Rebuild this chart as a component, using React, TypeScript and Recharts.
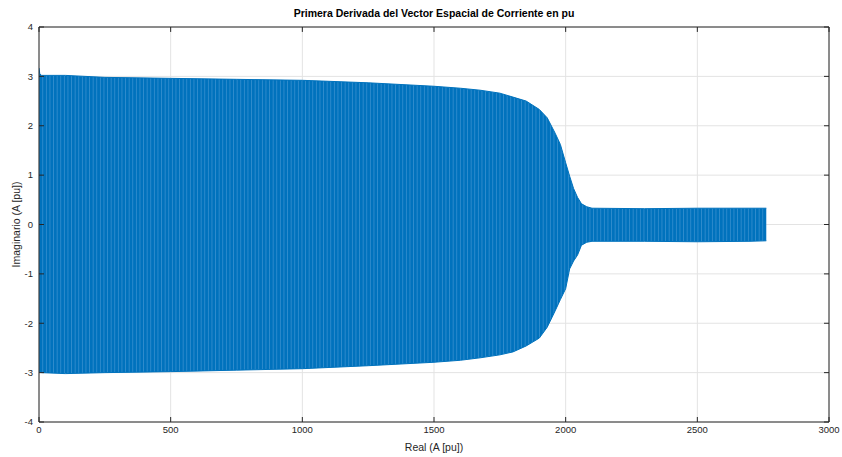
import React from 'react';
import {
  ComposedChart, Area, XAxis, YAxis, CartesianGrid, ReferenceLine,
} from 'recharts';

// envelope of the oscillating signal
const realPts = [0, 3, 10, 100, 250, 500, 750, 1000, 1250, 1500, 1600, 1675, 1750, 1800, 1850, 1900, 1930, 1960, 1980, 2000, 2015, 2030, 2045, 2060, 2080, 2100, 2300, 2500, 2700, 2762];
const upperVals = [3.17, 3.05, 3.02, 3.02, 2.98, 2.96, 2.94, 2.92, 2.87, 2.8, 2.76, 2.72, 2.66, 2.58, 2.5, 2.33, 2.16, 1.85, 1.62, 1.25, 0.98, 0.73, 0.55, 0.42, 0.36, 0.33, 0.32, 0.33, 0.33, 0.33];
const lowerVals = [-2.97, -2.98, -3.0, -3.02, -3.0, -2.98, -2.95, -2.92, -2.86, -2.79, -2.75, -2.7, -2.64, -2.58, -2.46, -2.3, -2.08, -1.75, -1.52, -1.3, -0.9, -0.74, -0.62, -0.42, -0.36, -0.34, -0.34, -0.35, -0.34, -0.33];

const xTicks = [0, 500, 1000, 1500, 2000, 2500, 3000];
const yTicks = [-4, -3, -2, -1, 0, 1, 2, 3, 4];

const data = realPts.map((x, i) => ({ x, hi: upperVals[i], lo: lowerVals[i] }));

const FONT = '"Liberation Sans", Arial, sans-serif';
const AXIS = '#262626';
const BLUE = '#0072BD';

export default function App() {
  return (
    <div style={{ position: 'absolute', left: 0, top: 0, width: 842, height: 457, background: '#fff', fontFamily: FONT }}>
      <div style={{ position: 'absolute', left: 39, width: 790, top: 7, textAlign: 'center', fontSize: 10.5, fontWeight: 'bold', color: '#000' }}>
        Primera Derivada del Vector Espacial de Corriente en pu
      </div>
      <ComposedChart width={842} height={457} data={data} margin={{ top: 27, right: 13, bottom: 0, left: 0 }}>
        <defs>
          {/* faint vertical striping like the dense trace */}
          <pattern id="stripes" width="3.6" height="10" patternUnits="userSpaceOnUse">
            <rect width="3.6" height="10" fill={BLUE} />
            <rect x="2.9" width="0.7" height="10" fill="#3f93d2" />
          </pattern>
        </defs>
        <CartesianGrid stroke="#e3e3e3" strokeWidth={1} />
        <XAxis
          dataKey="x" type="number" domain={[0, 3000]} ticks={xTicks} allowDataOverflow
          height={35} stroke={AXIS} tickSize={-5} tickMargin={9}
          tick={{ fontSize: 9.5, fill: AXIS, fontFamily: FONT }}
          label={{ value: 'Real (A [pu])', position: 'insideBottom', offset: 6, fontSize: 10.5, fill: AXIS, fontFamily: FONT }}
        />
        <YAxis
          type="number" domain={[-4, 4]} ticks={yTicks} allowDataOverflow
          width={39} stroke={AXIS} tickSize={-5} tickMargin={11}
          tick={{ fontSize: 9.5, fill: AXIS, fontFamily: FONT }}
          label={{ value: 'Imaginario (A [pu])', angle: -90, position: 'insideLeft', offset: 16, fontSize: 10.5, fill: AXIS, fontFamily: FONT, style: { textAnchor: 'middle' } }}
        />
        <Area
          type="linear" dataKey={(d: any) => [d.lo, d.hi]} stroke={BLUE} strokeWidth={1}
          fill="url(#stripes)" fillOpacity={1} isAnimationActive={false} dot={false} activeDot={false}
        />
        {/* box edges and inner ticks on top / right */}
        <ReferenceLine y={4} stroke={AXIS} strokeWidth={1} ifOverflow="extendDomain" />
        <ReferenceLine x={3000} stroke={AXIS} strokeWidth={1} ifOverflow="extendDomain" />
        {xTicks.map((t) => (
          <ReferenceLine key={'tx' + t} segment={[{ x: t, y: 4 }, { x: t, y: 3.9 }]} stroke={AXIS} />
        ))}
        {yTicks.map((t) => (
          <ReferenceLine key={'ty' + t} segment={[{ x: 3000, y: t }, { x: 2981, y: t }]} stroke={AXIS} />
        ))}
      </ComposedChart>
    </div>
  );
}
